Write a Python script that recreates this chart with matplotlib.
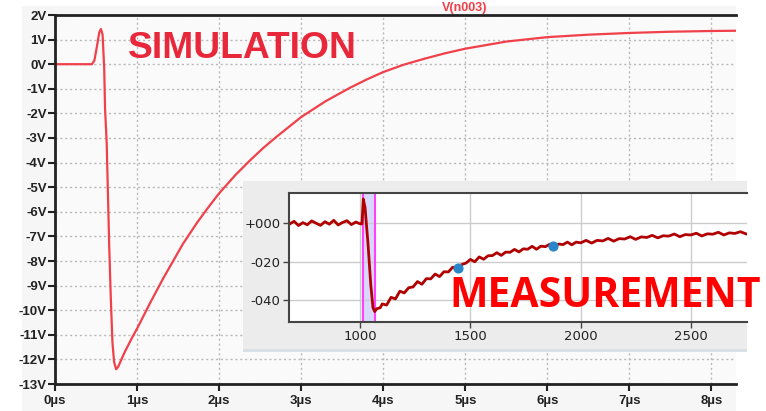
import matplotlib.pyplot as plt
import matplotlib.patches as mpatches

# simulated waveform V(n003), time in microseconds
sim_t = [0, 0.45, 0.48, 0.51, 0.54, 0.56, 0.58, 0.60, 0.61, 0.63, 0.66, 0.68, 0.70, 0.72,
         0.745, 0.77, 0.85, 0.95, 1.0, 1.16, 1.32, 1.56, 1.73, 1.85, 2.0, 2.2, 2.38, 2.54, 2.7,
         3.0, 3.3, 3.6, 3.8, 4.0, 4.25, 4.5, 4.75, 5.0, 5.5, 6.0, 6.5, 7.0, 7.5, 8.0, 8.3]
sim_v = [0, 0, 0.15, 0.7, 1.3, 1.43, 1.2, -0.2, -1.8, -3.2, -7.3, -9.5, -11.3, -12.1,
         -12.4, -12.3, -11.7, -11.05, -10.75, -9.7, -8.7, -7.3, -6.45, -5.9, -5.25, -4.5, -3.9, -3.4, -2.95,
         -2.15, -1.5, -0.95, -0.62, -0.32, -0.02, 0.22, 0.44, 0.63, 0.92, 1.1, 1.2, 1.27, 1.32, 1.35, 1.36]

# measured trace (inset), time in ns
meas_t = [680, 700, 720, 740, 760, 780, 800, 820, 840, 860, 880, 900, 920, 940, 960, 980, 1000,
          1008, 1014, 1022, 1035, 1048, 1058, 1066, 1075, 1091,
          1100, 1120, 1140, 1160, 1180, 1200, 1220, 1240, 1260, 1280, 1300, 1320, 1340, 1360,
          1380, 1400, 1420, 1440, 1460, 1480, 1500, 1520, 1540, 1560, 1580, 1600, 1620, 1640,
          1660, 1680, 1700, 1720, 1740, 1760, 1780, 1800, 1820, 1840, 1860, 1880, 1900, 1920,
          1940, 1960, 1980, 2000, 2025, 2050, 2075, 2100, 2125, 2150, 2175, 2200, 2225, 2250,
          2275, 2300, 2325, 2350, 2375, 2400, 2425, 2450, 2475, 2500, 2525, 2550, 2575, 2600,
          2625, 2650, 2675, 2700, 2725, 2750]
meas_v = [-0.5, 0.9, -1.3, 0.2, -0.9, 1.1, -0.1, -1.2, 0.7, -0.6, 1.4, -1.0, 0.3, 1.2, -0.8, 0.5, -0.4,
          -0.5, 12.5, 8.0, -10.0, -32.0, -44.0, -46.0, -44.5, -44.0,
          -42.0, -42.6, -38.6, -39.4, -35.4, -36.3, -33.6, -33.2, -30.4, -31.8, -28.9, -29.0, -26.5, -27.8,
          -25.3, -25.4, -22.9, -24.0, -21.6, -20.8, -18.9, -20.1, -17.6, -18.8, -17.0, -16.9, -15.4, -16.8,
          -15.1, -15.2, -13.7, -15.0, -13.4, -13.6, -12.1, -13.6, -12.0, -12.3, -11.0, -12.4, -10.9, -11.2,
          -9.9, -11.3, -9.9, -10.3, -9.0, -10.4, -9.0, -9.3, -8.0, -9.4, -8.1, -8.3, -7.1, -8.5,
          -7.2, -7.5, -6.4, -7.7, -6.6, -6.8, -5.7, -7.1, -6.0, -6.2, -5.3, -6.7, -5.6, -5.8,
          -4.8, -6.2, -5.1, -5.4, -4.5, -5.6]
marker_t = [1445, 1873]
marker_v = [-23.4, -12.0]
band = (1012, 1065)

main_yticks = list(range(2, -14, -1))
main_xticks = list(range(0, 9))
inset_yticks = [0, -20, -40]
inset_ytick_labels = ['+000', '-020', '-040']
inset_xticks = [1000, 1500, 2000, 2500]

W, H = 766, 411
fig = plt.figure(figsize=(W / 100, H / 100), dpi=100)
fig.patch.set_facecolor('white')

def fx(px):
    return px / W

def fy(py):
    return 1 - py / H

# window background behind the LTspice plot
fig.patches.append(mpatches.Rectangle((fx(22), 0), fx(736 - 22), fy(6), transform=fig.transFigure,
                                      facecolor='#f6f6f6', edgecolor='none', zorder=-1))

ax = fig.add_axes([fx(55), fy(384), fx(736 - 55), fy(15) - fy(384)])
ax.set_facecolor('#fafafa')
ax.plot(sim_t, sim_v, color='#f0404a', lw=1.6)
ax.set_xlim(0, 8.3)
ax.set_ylim(-13, 2)
ax.set_yticks(main_yticks)
ax.set_yticklabels([f'{v}V' for v in main_yticks])
ax.set_xticks(main_xticks)
ax.set_xticklabels([f'{t}µs' for t in main_xticks])
ax.grid(True, color='#b8b8b8', ls=(0, (1.5, 2)), lw=1)
for s in ['left', 'bottom', 'top']:
    ax.spines[s].set_linewidth(2)
    ax.spines[s].set_color('#222222')
ax.spines['right'].set_visible(False)
ax.tick_params(direction='out', length=5, width=1.5, color='#222222', labelsize=9.5,
               labelcolor='#222222')
ax.tick_params(axis='y', pad=1)
ax.tick_params(axis='x', pad=3)
for lab in ax.get_xticklabels() + ax.get_yticklabels():
    lab.set_fontfamily('Liberation Sans')
    lab.set_fontweight('bold')

fig.text(fx(465), fy(11), 'V(n003)', color='#f0404a', fontsize=9, ha='center', va='baseline',
         family='Liberation Sans', weight='bold')
fig.text(fx(128), fy(58), 'SIMULATION', color='#e8283a', fontsize=26.8, ha='left', va='baseline',
         family='Liberation Sans', weight='bold', zorder=5)

# inset panel with the measurement
fig.patches.append(mpatches.Rectangle((fx(243), fy(352)), fx(747 - 243), fy(181) - fy(352),
                                      transform=fig.transFigure, facecolor='#ececec',
                                      edgecolor='none', zorder=1))
fig.patches.append(mpatches.Rectangle((fx(243), fy(352)), fx(747 - 243), fy(349) - fy(352),
                                      transform=fig.transFigure, facecolor='#d8e0e8',
                                      edgecolor='none', zorder=1.1))

ins = fig.add_axes([fx(289), fy(322), fx(747 - 289), fy(193) - fy(322)], zorder=2)
ins.set_facecolor('white')
ins.axvspan(band[0], band[1], facecolor='#d8d8ff', edgecolor='none')
ins.axvline(band[0], color='#ff40ff', lw=1.5)
ins.axvline(band[1], color='#ff40ff', lw=1.5)
ins.plot(meas_t, meas_v, color='#b00000', lw=2.0)
ins.scatter(marker_t, marker_v, s=40, color='#2a86c8', zorder=3)
ins.set_xlim(677, 2755)
ins.set_ylim(-51.4, 15.6)
ins.set_yticks(inset_yticks)
ins.set_yticklabels(inset_ytick_labels)
ins.set_xticks(inset_xticks)
ins.grid(True, color='#cccccc', lw=1)
for s in ins.spines.values():
    s.set_color('#444444')
    s.set_linewidth(1.5)
ins.spines['right'].set_visible(False)
ins.tick_params(direction='out', length=4, width=1, color='#444444', labelsize=9.5,
                labelcolor='#222222', pad=2)

fig.text(fx(449), fy(307), 'MEASUREMENT', color='#ff0000', fontsize=29.5, ha='left', va='baseline',
         family='Open Sans', weight='bold', zorder=5)

fig.savefig('out.png', dpi=100)
